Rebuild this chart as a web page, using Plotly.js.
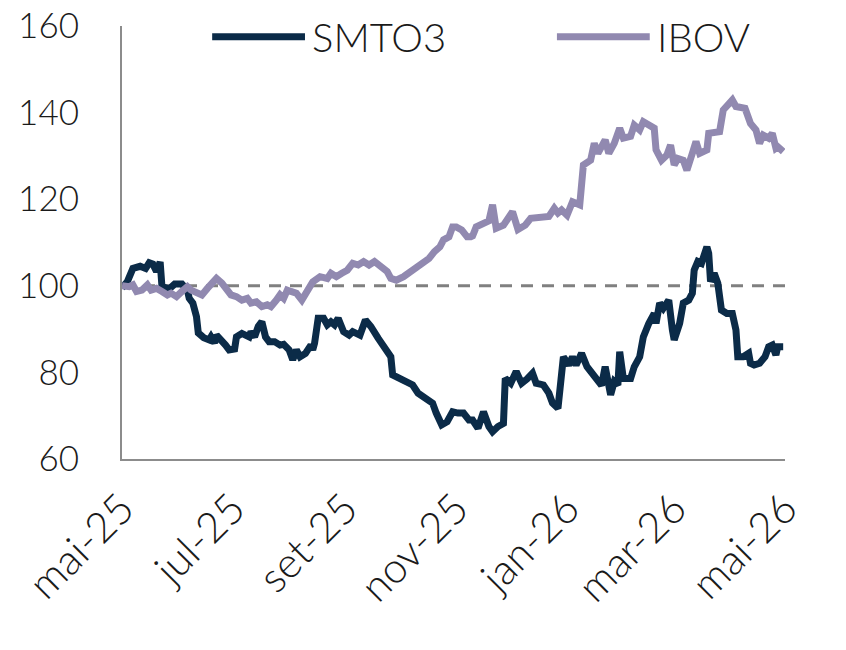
<!DOCTYPE html>
<html>
<head>
<meta charset="utf-8">
<script src="https://cdn.plot.ly/plotly-3.0.1.min.js"></script>
<style>
  html, body { margin: 0; padding: 0; background: #fff; }
  #plot { width: 846px; height: 650px; }
</style>
</head>
<body>
<div id="plot"></div>
<script>
// SMTO3 (base 100)
const smtoDates = [
    '2025-05-01', '2025-05-04', '2025-05-07', '2025-05-11', '2025-05-14', '2025-05-16', '2025-05-18',
    '2025-05-20', '2025-05-22', '2025-05-23', '2025-05-27', '2025-05-30', '2025-06-03', '2025-06-06',
    '2025-06-07', '2025-06-09', '2025-06-11', '2025-06-12', '2025-06-15', '2025-06-18', '2025-06-19',
    '2025-06-21', '2025-06-22', '2025-06-25', '2025-06-27', '2025-06-29', '2025-07-02', '2025-07-03',
    '2025-07-06', '2025-07-10', '2025-07-11', '2025-07-13', '2025-07-15', '2025-07-17', '2025-07-19',
    '2025-07-21', '2025-07-24', '2025-07-27', '2025-07-29', '2025-08-01', '2025-08-03', '2025-08-05',
    '2025-08-07', '2025-08-10', '2025-08-13', '2025-08-14', '2025-08-15', '2025-08-17', '2025-08-20',
    '2025-08-22', '2025-08-24', '2025-08-26', '2025-08-28', '2025-08-31', '2025-09-03', '2025-09-05',
    '2025-09-09', '2025-09-12', '2025-09-15', '2025-09-19', '2025-09-24', '2025-09-26', '2025-09-27',
    '2025-10-01', '2025-10-05', '2025-10-08', '2025-10-11', '2025-10-16', '2025-10-19', '2025-10-21',
    '2025-10-24', '2025-10-27', '2025-10-30', '2025-11-02', '2025-11-05', '2025-11-08', '2025-11-10',
    '2025-11-13', '2025-11-16', '2025-11-19', '2025-11-21', '2025-11-24', '2025-11-27', '2025-11-28',
    '2025-12-01', '2025-12-04', '2025-12-07', '2025-12-10', '2025-12-13', '2025-12-15', '2025-12-19',
    '2025-12-22', '2025-12-24', '2025-12-27', '2025-12-30', '2026-01-02', '2026-01-04', '2026-01-06',
    '2026-01-09', '2026-01-12', '2026-01-15', '2026-01-18', '2026-01-20', '2026-01-22', '2026-01-25',
    '2026-01-27', '2026-01-29', '2026-01-30', '2026-02-01', '2026-02-05', '2026-02-07', '2026-02-10',
    '2026-02-12', '2026-02-15', '2026-02-18', '2026-02-19', '2026-02-21', '2026-02-23', '2026-02-26',
    '2026-02-28', '2026-03-01', '2026-03-04', '2026-03-06', '2026-03-09', '2026-03-11', '2026-03-12',
    '2026-03-14', '2026-03-16', '2026-03-19', '2026-03-20', '2026-03-21', '2026-03-23', '2026-03-25',
    '2026-03-27', '2026-03-30', '2026-04-02', '2026-04-04', '2026-04-05', '2026-04-08', '2026-04-11',
    '2026-04-12', '2026-04-14', '2026-04-17', '2026-04-20', '2026-04-22', '2026-04-24', '2026-04-26',
    '2026-04-27', '2026-04-30'
]
const smtoValues = [
    99.5, 101, 104, 104.5, 104, 105.3, 105,
    103.3, 105.5, 99.8, 99.3, 100.4, 100.4, 99,
    97.1, 96, 92.9, 89.1, 88, 87.5, 88.2,
    86.8, 88.6, 87.5, 86.3, 85.2, 85.4, 88.2,
    89, 88.2, 89.4, 88.2, 90.6, 91.7, 88.2,
    87.1, 87.1, 86.3, 86.5, 85.2, 82.9, 85.2,
    83.6, 84.4, 86.3, 85.2, 86.7, 92.5, 92.5,
    91, 91.7, 91, 92.5, 89.4, 88.6, 89.4,
    88.6, 92.1, 90.6, 87.9, 85.2, 83.6, 79.4,
    78.6, 77.5, 77.1, 75.2, 73.6, 72.9, 70.6,
    67.9, 68.6, 70.9, 70.6, 70.6, 69, 69,
    67.1, 70.9, 67.5, 66.3, 67.5, 68.2, 78.6,
    77.5, 80.2, 77.5, 78.5, 79.8, 77.5, 77.1,
    75.2, 72.9, 71.7, 83.6, 81.7, 83.6, 81.7,
    84.4, 81.3, 79.8, 78.2, 77, 81.3, 74.8,
    77.9, 77.1, 84.8, 78.6, 78.6, 81.3, 83.6,
    88.2, 91.3, 93.6, 91.3, 96, 94.8, 96.7,
    89.8, 87.5, 91.3, 96, 96.7, 98.3, 103.6,
    105.6, 105.2, 109, 107.5, 101, 102.9, 100.6,
    94.4, 93.6, 93.6, 89.8, 83.6, 83.6, 84.4,
    82.1, 81.7, 82.1, 83.6, 85.9, 86.3, 84,
    85.9, 85.9
]

// IBOV (base 100)
const ibovDates = [
    '2025-05-01', '2025-05-05', '2025-05-07', '2025-05-09', '2025-05-12', '2025-05-15', '2025-05-17',
    '2025-05-20', '2025-05-23', '2025-05-26', '2025-05-28', '2025-05-31', '2025-06-03', '2025-06-06',
    '2025-06-08', '2025-06-11', '2025-06-14', '2025-06-17', '2025-06-19', '2025-06-22', '2025-06-25',
    '2025-06-28', '2025-06-30', '2025-07-03', '2025-07-06', '2025-07-09', '2025-07-11', '2025-07-14',
    '2025-07-17', '2025-07-20', '2025-07-22', '2025-07-25', '2025-07-27', '2025-07-29', '2025-07-31',
    '2025-08-02', '2025-08-05', '2025-08-08', '2025-08-11', '2025-08-14', '2025-08-18', '2025-08-22',
    '2025-08-24', '2025-08-27', '2025-08-30', '2025-09-02', '2025-09-05', '2025-09-08', '2025-09-11',
    '2025-09-14', '2025-09-17', '2025-09-20', '2025-09-24', '2025-09-26', '2025-09-29', '2025-10-03',
    '2025-10-06', '2025-10-09', '2025-10-13', '2025-10-17', '2025-10-20', '2025-10-23', '2025-10-25',
    '2025-10-28', '2025-10-30', '2025-11-01', '2025-11-04', '2025-11-07', '2025-11-09', '2025-11-10',
    '2025-11-12', '2025-11-14', '2025-11-16', '2025-11-19', '2025-11-21', '2025-11-23', '2025-11-27',
    '2025-11-30', '2025-12-02', '2025-12-05', '2025-12-09', '2025-12-12', '2025-12-14', '2025-12-18',
    '2025-12-22', '2025-12-25', '2025-12-27', '2025-12-29', '2026-01-01', '2026-01-04', '2026-01-08',
    '2026-01-10', '2026-01-14', '2026-01-16', '2026-01-18', '2026-01-22', '2026-01-24', '2026-01-27',
    '2026-01-30', '2026-02-01', '2026-02-05', '2026-02-07', '2026-02-10', '2026-02-12', '2026-02-15',
    '2026-02-18', '2026-02-19', '2026-02-22', '2026-02-25', '2026-02-27', '2026-03-01', '2026-03-03',
    '2026-03-06', '2026-03-08', '2026-03-11', '2026-03-13', '2026-03-15', '2026-03-19', '2026-03-20',
    '2026-03-24', '2026-03-26', '2026-03-28', '2026-03-31', '2026-04-02', '2026-04-04', '2026-04-09',
    '2026-04-12', '2026-04-15', '2026-04-17', '2026-04-19', '2026-04-22', '2026-04-24', '2026-04-26',
    '2026-04-27', '2026-04-30'
]
const ibovValues = [
    100, 99.8, 100.2, 98.7, 99, 100.2, 99,
    99.4, 98.7, 97.9, 98.3, 97.5, 98.7, 99.8,
    99, 98.3, 97.9, 99.4, 100.6, 101.7, 100.6,
    98.7, 97.9, 97.5, 96.7, 97.1, 96, 96.3,
    95.2, 95.6, 95.2, 96.7, 97.9, 97.1, 99,
    98.7, 98.3, 96.7, 99, 100.9, 102.1, 101.7,
    102.9, 102.1, 102.9, 103.6, 105.2, 104.8, 105.6,
    104.8, 105.6, 104.4, 103.3, 101.7, 101.3, 102.1,
    102.9, 104, 105.2, 106.3, 107.9, 109, 110.6,
    111.3, 113.6, 113.6, 112.9, 111.3, 111.3, 111.5,
    113.6, 114, 114.4, 115, 118.7, 113.3, 114,
    115.6, 117.1, 113, 114, 115.6, 115.6, 116,
    116, 117.9, 116.8, 117.5, 116.3, 119.4, 118.7,
    127.9, 129, 132.9, 130.6, 133.7, 130.6, 132.9,
    136.4, 134.1, 134.5, 137.1, 136, 137.9, 137.1,
    136.4, 131.4, 129, 130.2, 132.5, 127.9, 129.4,
    129, 126.7, 130.6, 133.3, 130.6, 131.4, 135.2,
    135.6, 135.6, 140.6, 142.1, 142.9, 141.4, 141,
    137.5, 136, 132.9, 134.8, 134.1, 135.2, 131.8,
    132.1, 131
]

// eixo x: rótulos a cada dois meses
const tickDates = ['2025-05-01', '2025-07-01', '2025-09-01', '2025-11-01', '2026-01-01', '2026-03-01', '2026-05-01']
const tickLabels = ['mai-25', 'jul-25', 'set-25', 'nov-25', 'jan-26', 'mar-26', 'mai-26']
const yTicks = [60, 80, 100, 120, 140, 160]

const baseLevel = 100

const fontFamily = 'Lato, "Open Sans", sans-serif'
const textColor = '#1a1a1a'
const axisColor = '#8c8c8c'
const smtoColor = '#0b2b48'
const ibovColor = '#9189b0'

const traceSmto = {
    x: smtoDates,
    y: smtoValues,
    type: 'scatter',
    mode: 'lines',
    name: 'SMTO3',
    line: { color: smtoColor, width: 7 }
}

const traceIbov = {
    x: ibovDates,
    y: ibovValues,
    type: 'scatter',
    mode: 'lines',
    name: 'IBOV',
    line: { color: ibovColor, width: 7 }
}

// legenda desenhada à mão (linhas compridas como no original)
function legendItem(x0, x1, color, label) {
    return {
        shape: {
            type: 'line', xref: 'paper', yref: 'paper',
            x0: x0, x1: x1, y0: 0.975, y1: 0.975,
            line: { color: color, width: 7 }
        },
        note: {
            xref: 'paper', yref: 'paper', x: x1 + 0.008, y: 0.975,
            xanchor: 'left', yanchor: 'middle', showarrow: false,
            text: label,
            font: { family: fontFamily, size: 40, color: textColor, weight: 300 }
        }
    }
}
const legSmto = legendItem(0.136, 0.276, smtoColor, 'SMTO3')
const legIbov = legendItem(0.656, 0.796, ibovColor, 'IBOV')

const layout = {
    width: 846,
    height: 650,
    margin: { l: 122, r: 61, t: 26, b: 191 },
    paper_bgcolor: '#fff',
    plot_bgcolor: '#fff',
    font: { family: fontFamily, size: 34, color: textColor, weight: 300 },
    showlegend: false,
    xaxis: {
        type: 'date',
        range: ['2025-05-01', '2026-05-01'],
        tickvals: tickDates,
        ticktext: tickLabels,
        tickangle: -45,
        showgrid: false,
        zeroline: false,
        showline: true,
        linecolor: axisColor,
        linewidth: 2,
        ticks: '',
        tickfont: { family: fontFamily, size: 42, color: textColor, weight: 300 },
        ticklabelstandoff: 6
    },
    yaxis: {
        range: [60, 160],
        tickvals: yTicks,
        showgrid: false,
        zeroline: false,
        showline: true,
        linecolor: axisColor,
        linewidth: 2,
        ticks: '',
        tickfont: { family: fontFamily, size: 35, color: textColor, weight: 300 },
        ticklabelstandoff: 34
    },
    shapes: [{
        type: 'line',
        xref: 'paper',
        x0: 0,
        x1: 1,
        yref: 'y',
        y0: baseLevel,
        y1: baseLevel,
        line: { color: '#808080', width: 3, dash: '12px,9px' },
        layer: 'below'
    }, legSmto.shape, legIbov.shape],
    annotations: [legSmto.note, legIbov.note]
}

Plotly.newPlot('plot', [traceSmto, traceIbov], layout, { displayModeBar: false, staticPlot: true })
</script>
</body>
</html>
